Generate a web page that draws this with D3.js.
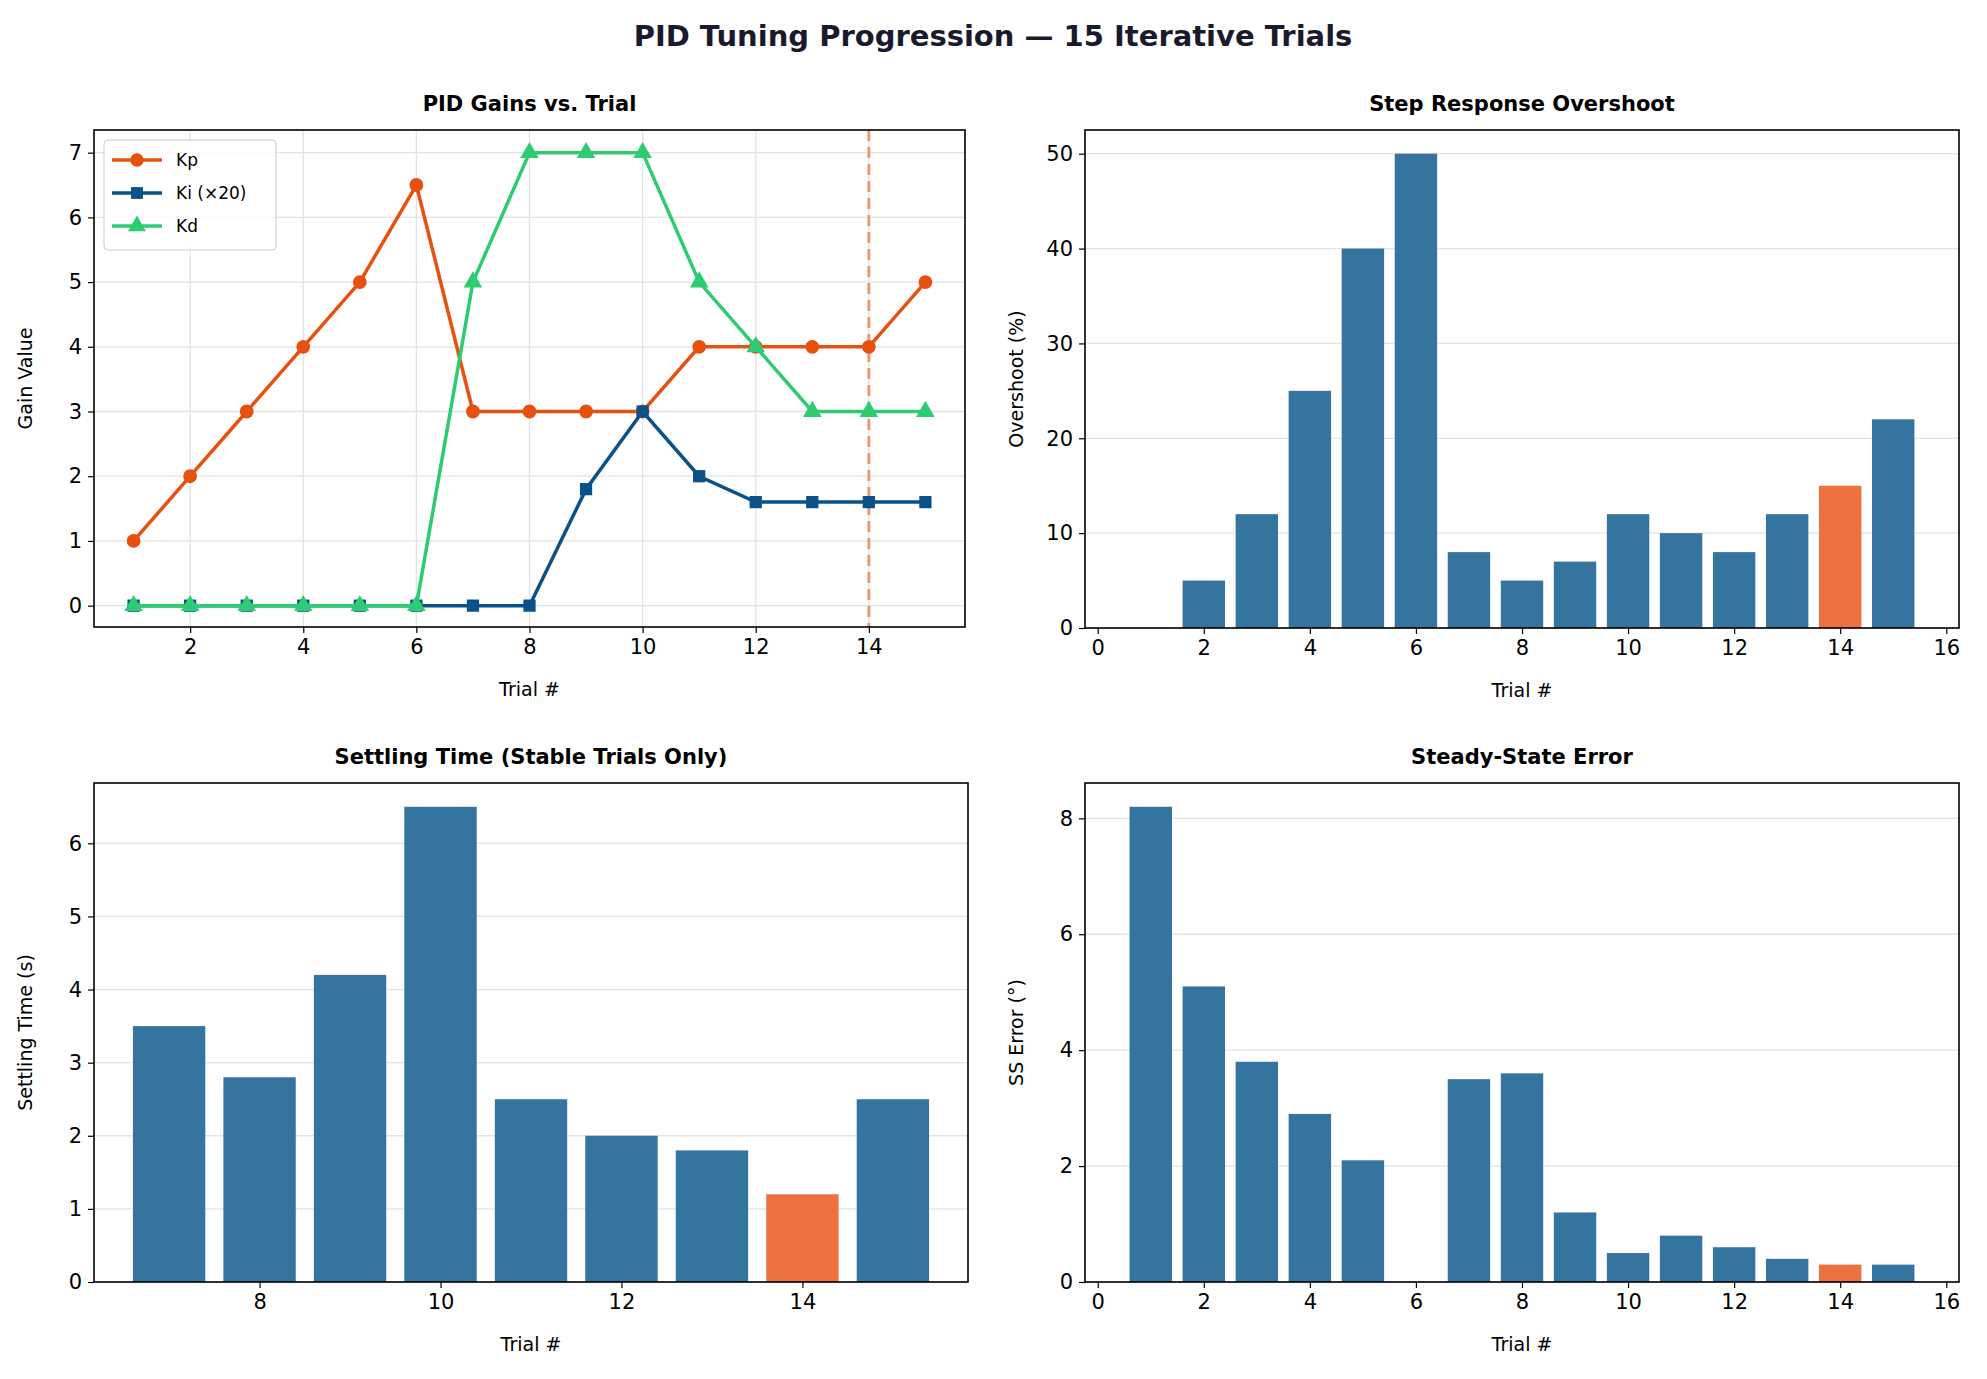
<!DOCTYPE html>
<html><head><meta charset="utf-8">
<script src="https://cdn.jsdelivr.net/npm/d3@7"></script>
<style>body{margin:0;background:#fff}text{font-family:"DejaVu Sans",sans-serif}</style>
</head><body><svg id="c" width="1987" height="1379"></svg>
<script>
const trials=[1,2,3,4,5,6,7,8,9,10,11,12,13,14,15];
const kp=[1,2,3,4,5,6.5,3,3,3,3,4,4,4,4,5];
const ki20=[0,0,0,0,0,0,0,0,1.8,3,2,1.6,1.6,1.6,1.6];
const kd=[0,0,0,0,0,0,5,7,7,7,5,4,3,3,3];
const overshoot=[0,5,12,25,40,50,8,5,7,12,10,8,12,15,22];
const stableTrials=[7,8,9,10,11,12,13,14,15];
const settling=[3.5,2.8,4.2,6.5,2.5,2.0,1.8,1.2,2.5];
const ssError=[8.2,5.1,3.8,2.9,2.1,0,3.5,3.6,1.2,0.5,0.8,0.6,0.4,0.3,0.3];
const bestTrial=14;

const svg=d3.select("#c");
const BLUE="#3674a0",ORANGE="#ec7040";
svg.append("text").attr("x",993).attr("y",46).attr("text-anchor","middle").attr("font-size",29).attr("font-weight","bold").attr("fill","#1a1a2e").text("PID Tuning Progression — 15 Iterative Trials");

function panel(o){
  const {x0,x1,y0,y1,xd,yd,xt,yt,title,ylab,xgrid}=o;
  const g=svg.append("g");
  const x=d3.scaleLinear().domain(xd).range([x0,x1]);
  const y=d3.scaleLinear().domain(yd).range([y1,y0]);
  yt.forEach(v=>g.append("line").attr("x1",x0).attr("x2",x1).attr("y1",y(v)).attr("y2",y(v)).attr("stroke","#e3e3e3").attr("stroke-width",1.3));
  if(xgrid) xt.forEach(v=>g.append("line").attr("y1",y0).attr("y2",y1).attr("x1",x(v)).attr("x2",x(v)).attr("stroke","#e3e3e3").attr("stroke-width",1.3));
  const ax=g.append("g").attr("transform",`translate(0,${y1})`).call(d3.axisBottom(x).tickValues(xt).tickFormat(d3.format("d")).tickSize(6).tickPadding(6));
  const ay=g.append("g").attr("transform",`translate(${x0},0)`).call(d3.axisLeft(y).tickValues(yt).tickFormat(d3.format("d")).tickSize(6).tickPadding(6));
  [ax,ay].forEach(a=>{a.selectAll("text").attr("font-size",21).attr("fill","#000").style("font-family","DejaVu Sans");a.select(".domain").remove();a.selectAll("line").attr("stroke","#000").attr("stroke-width",1.2);});
  g.append("text").attr("x",(x0+x1)/2).attr("y",y0-19).attr("text-anchor","middle").attr("font-size",21).attr("font-weight","bold").text(title);
  g.append("text").attr("x",(x0+x1)/2).attr("y",y1+69).attr("text-anchor","middle").attr("font-size",19).text("Trial #");
  g.append("text").attr("transform",`translate(${x0-62},${(y0+y1)/2}) rotate(-90)`).attr("text-anchor","middle").attr("font-size",19).text(ylab);
  const content=g.append("g");
  g.append("rect").attr("x",x0).attr("y",y0).attr("width",x1-x0).attr("height",y1-y0).attr("fill","none").attr("stroke","#000").attr("stroke-width",1.6);
  return {x,y,g:content};
}

// Panel 1
{
  const p=panel({x0:94,x1:965,y0:130,y1:627,xd:[0.3,15.7],yd:[-0.33,7.35],xt:[2,4,6,8,10,12,14],yt:[0,1,2,3,4,5,6,7],title:"PID Gains vs. Trial",ylab:"Gain Value",xgrid:true});
  const {x,y,g}=p;
  g.append("line").attr("x1",x(bestTrial)).attr("x2",x(bestTrial)).attr("y1",130).attr("y2",627).attr("stroke","#e8825a").attr("stroke-opacity",0.8).attr("stroke-width",3).attr("stroke-dasharray","11,6");
  const series=[{n:"Kp",v:kp,c:"#e8500f",m:"circle"},{n:"Ki (×20)",v:ki20,c:"#0a5189",m:"square"},{n:"Kd",v:kd,c:"#2ecc71",m:"triangle"}];
  const sym={circle:d3.symbolCircle,square:d3.symbolSquare,triangle:d3.symbolTriangle};
  const line=d3.line().x((d,i)=>x(trials[i])).y(d=>y(d));
  series.forEach(s=>{
    g.append("path").attr("d",line(s.v)).attr("fill","none").attr("stroke",s.c).attr("stroke-width",3.5);
    s.v.forEach((d,i)=>g.append("path").attr("d",d3.symbol(sym[s.m],150)()).attr("transform",`translate(${x(trials[i])},${y(d)})`).attr("fill",s.c));
  });
  const lg=svg.append("g").attr("transform","translate(104,140)");
  lg.append("rect").attr("width",172).attr("height",110).attr("rx",4).attr("fill","#fff").attr("fill-opacity",0.85).attr("stroke","#ccc");
  series.forEach((s,i)=>{
    const yy=20+i*33;
    lg.append("line").attr("x1",8).attr("x2",58).attr("y1",yy).attr("y2",yy).attr("stroke",s.c).attr("stroke-width",3.5);
    lg.append("path").attr("d",d3.symbol(sym[s.m],140)()).attr("transform",`translate(33,${yy})`).attr("fill",s.c);
    lg.append("text").attr("x",72).attr("y",yy+6).attr("font-size",17).text(s.n);
  });
}
function bars(p,xs,vals){
  const w=p.x(0.8)-p.x(0);
  xs.forEach((t,i)=>p.g.append("rect").attr("x",p.x(t-0.4)).attr("width",w).attr("y",p.y(vals[i])).attr("height",p.y(0)-p.y(vals[i])).attr("fill",t===bestTrial?ORANGE:BLUE));
}
{
  const p=panel({x0:1085,x1:1959,y0:130,y1:628,xd:[-0.24,16.24],yd:[0,52.5],xt:[0,2,4,6,8,10,12,14,16],yt:[0,10,20,30,40,50],title:"Step Response Overshoot",ylab:"Overshoot (%)"});
  bars(p,trials,overshoot);
}
{
  const p=panel({x0:94,x1:968,y0:783,y1:1282,xd:[6.17,15.83],yd:[0,6.825],xt:[8,10,12,14],yt:[0,1,2,3,4,5,6],title:"Settling Time (Stable Trials Only)",ylab:"Settling Time (s)"});
  bars(p,stableTrials,settling);
}
{
  const p=panel({x0:1085,x1:1959,y0:783,y1:1282,xd:[-0.24,16.24],yd:[0,8.61],xt:[0,2,4,6,8,10,12,14,16],yt:[0,2,4,6,8],title:"Steady-State Error",ylab:"SS Error (°)"});
  bars(p,trials,ssError);
}
</script></body></html>
